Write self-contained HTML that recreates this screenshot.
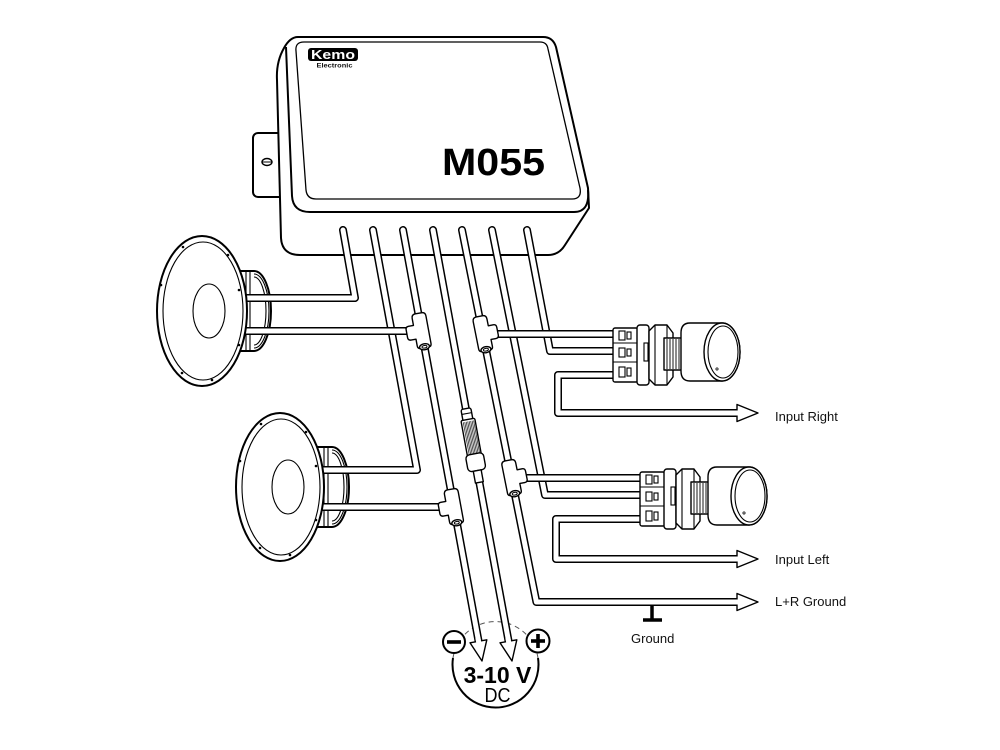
<!DOCTYPE html>
<html><head><meta charset="utf-8">
<style>
html,body{margin:0;padding:0;background:#fff;width:1000px;height:750px;overflow:hidden}
svg{display:block}
.o{fill:#fff;stroke:#000;stroke-width:2;stroke-linejoin:round}
.t{fill:#fff;stroke:#000;stroke-width:1.4;stroke-linejoin:round}
.tb{fill:none;stroke:#000;stroke-width:8;stroke-linejoin:round;stroke-linecap:round}
.tw{fill:none;stroke:#fff;stroke-width:5;stroke-linejoin:round;stroke-linecap:round}
.l{fill:none;stroke:#000;stroke-width:1.1}
.h{fill:none;stroke:#333;stroke-width:0.8}
.th{fill:none;stroke:#000;stroke-width:0.9}
text{font-family:"Liberation Sans",Arial,sans-serif;fill:#111}
</style></head>
<body>
<svg width="1000" height="750" viewBox="0 0 1000 750" xmlns="http://www.w3.org/2000/svg">
<rect width="1000" height="750" fill="#fff"/>

<!-- ===== BOX ===== -->
<rect class="o" x="253" y="133" width="34" height="64" rx="5"/>
<ellipse cx="267" cy="162" rx="5" ry="3.5" class="t"/>
<line x1="262.5" y1="162" x2="271.5" y2="162" stroke="#000" stroke-width="1"/>
<path class="o" stroke-width="2.3" d="M298,37 L543,37 Q553,37 556,47 L588,188 L589,208 L565,245 Q559,255 548,255 L300,255 Q282,255 281,238 L277,80 Q276,62 284,48 Q290,37 298,37 Z"/>
<path fill="none" stroke="#000" stroke-width="2" d="M286,47 L292,196 Q293,212 310,212 L574,212 Q590,212 588,190"/>
<path fill="none" stroke="#000" stroke-width="1.3" d="M304,42 L540,42 Q547,42 548,49 L580,188 Q582,199 572,199 L316,199 Q307,199 306,190 L296,51 Q295,42 304,42 Z"/>
<rect x="308" y="48" width="50" height="13" rx="3" fill="#000"/>
<text x="333" y="59" text-anchor="middle" font-size="12.5" font-weight="bold" style="fill:#fff" textLength="44" lengthAdjust="spacingAndGlyphs">Kemo</text>
<text x="334.5" y="67.5" text-anchor="middle" font-size="6.5" font-weight="bold" textLength="36" lengthAdjust="spacingAndGlyphs">Electronic</text>
<text x="442" y="175" font-size="38" font-weight="bold" textLength="103" lengthAdjust="spacingAndGlyphs" style="fill:#000">M055</text>

<!-- ===== DC circle ===== -->
<path d="M453,658 A43,43 0 1 0 538,658" fill="none" stroke="#000" stroke-width="2"/>
<path d="M453,658 A43,43 0 0 1 538,658" fill="none" stroke="#555" stroke-width="1" stroke-dasharray="5 4"/>

<!-- ===== SPEAKER MAGNETS (behind) ===== -->
<g transform="translate(202,311)">
 <path class="o" d="M34,-40 L52,-40 A17,40 0 0 1 52,40 L34,40 Z"/>
 <path class="l" d="M52,-34 A12,34 0 0 1 52,34"/>
 <path class="l" d="M52,-37 A15,37 0 0 1 52,37"/>
 <line class="l" x1="44" y1="-39" x2="44" y2="39"/>
 <line class="l" x1="48" y1="-39" x2="48" y2="39"/>
</g>
<g transform="translate(280,487)">
 <path class="o" d="M34,-40 L52,-40 A17,40 0 0 1 52,40 L34,40 Z"/>
 <path class="l" d="M52,-34 A12,34 0 0 1 52,34"/>
 <path class="l" d="M52,-37 A15,37 0 0 1 52,37"/>
 <line class="l" x1="44" y1="-39" x2="44" y2="39"/>
 <line class="l" x1="48" y1="-39" x2="48" y2="39"/>
</g>

<!-- ===== WIRES ===== -->
<polyline class="tb" points="343,230 355,298 240,298"/><polyline class="tw" points="343,230 355,298 240,298"/>
<polyline class="tb" points="373,230 417,470 318,470"/><polyline class="tw" points="373,230 417,470 318,470"/>
<polyline class="tb" points="403,230 478.9,643"/><polyline class="tw" points="403,230 478.9,643"/>
<polyline class="tb" points="433,230 508.9,643"/><polyline class="tw" points="433,230 508.9,643"/>
<polyline class="tb" points="462,230 536.4,602 740,602"/><polyline class="tw" points="462,230 536.4,602 740,602"/>
<polyline class="tb" points="492,230 545,495 645,495"/><polyline class="tw" points="492,230 545,495 645,495"/>
<polyline class="tb" points="527,230 550,351 618,351"/><polyline class="tw" points="527,230 550,351 618,351"/>
<polyline class="tb" points="618,375 558,375 558,413 740,413"/><polyline class="tw" points="618,375 558,375 558,413 740,413"/>
<polyline class="tb" points="645,519 556,519 556,559 740,559"/><polyline class="tw" points="645,519 556,519 556,559 740,559"/>
<!-- branches -->
<polyline class="tb" points="240,331 410,331"/><polyline class="tw" points="240,331 410,331"/>
<polyline class="tb" points="318,507 442,507"/><polyline class="tw" points="318,507 442,507"/>
<polyline class="tb" points="494,334 618,334"/><polyline class="tw" points="494,334 618,334"/>
<polyline class="tb" points="523,478 645,478"/><polyline class="tw" points="523,478 645,478"/>

<!-- ===== SPEAKER FRONTS ===== -->
<g transform="translate(202,311)">
 <ellipse class="o" rx="45" ry="75" stroke-width="2.2"/>
 <ellipse class="l" cx="1" rx="40" ry="69"/>
 <ellipse class="l" cx="7" rx="16" ry="27"/>
 <g fill="#000">
  <circle cx="-19" cy="-64" r="1.3"/><circle cx="26" cy="-56" r="1.3"/><circle cx="37" cy="-21" r="1.3"/>
  <circle cx="37" cy="34" r="1.3"/><circle cx="10" cy="69" r="1.3"/><circle cx="-20" cy="62" r="1.3"/>
  <circle cx="-41" cy="-26" r="1.3"/>
 </g>
</g>
<g transform="translate(280,487)">
 <ellipse class="o" rx="44" ry="74" stroke-width="2.2"/>
 <ellipse class="l" cx="1" rx="39" ry="68"/>
 <ellipse class="l" cx="8" rx="16" ry="27"/>
 <g fill="#000">
  <circle cx="-19" cy="-63" r="1.3"/><circle cx="26" cy="-55" r="1.3"/><circle cx="36" cy="-21" r="1.3"/>
  <circle cx="36" cy="33" r="1.3"/><circle cx="10" cy="68" r="1.3"/><circle cx="-20" cy="61" r="1.3"/>
  <circle cx="-40" cy="-26" r="1.3"/>
 </g>
</g>

<!-- ===== T JUNCTIONS ===== -->
<g transform="translate(421.6,331) rotate(-10.4)">
 <path class="t" d="M-3,-18 L3,-18 Q7,-18 7,-14 L7,14 Q7,17 4,17 L-4,17 Q-7,17 -7,14 L-7,7 L-12,7 Q-15,7 -15,4 L-15,-4 Q-15,-7 -12,-7 L-7,-7 L-7,-14 Q-7,-18 -3,-18 Z"/>
 <ellipse class="t" cx="0" cy="16" rx="5" ry="3"/><ellipse cx="0" cy="16" rx="2.5" ry="1.3" fill="none" stroke="#000" stroke-width="1"/>
</g>
<g transform="translate(453.9,507) rotate(-10.4)">
 <path class="t" d="M-3,-18 L3,-18 Q7,-18 7,-14 L7,14 Q7,17 4,17 L-4,17 Q-7,17 -7,14 L-7,7 L-12,7 Q-15,7 -15,4 L-15,-4 Q-15,-7 -12,-7 L-7,-7 L-7,-14 Q-7,-18 -3,-18 Z"/>
 <ellipse class="t" cx="0" cy="16" rx="5" ry="3"/><ellipse cx="0" cy="16" rx="2.5" ry="1.3" fill="none" stroke="#000" stroke-width="1"/>
</g>
<g transform="translate(482.8,334) rotate(-11.3) scale(-1,1)">
 <path class="t" d="M-3,-18 L3,-18 Q7,-18 7,-14 L7,14 Q7,17 4,17 L-4,17 Q-7,17 -7,14 L-7,7 L-12,7 Q-15,7 -15,4 L-15,-4 Q-15,-7 -12,-7 L-7,-7 L-7,-14 Q-7,-18 -3,-18 Z"/>
 <ellipse class="t" cx="0" cy="16" rx="5" ry="3"/><ellipse cx="0" cy="16" rx="2.5" ry="1.3" fill="none" stroke="#000" stroke-width="1"/>
</g>
<g transform="translate(511.6,478) rotate(-11.3) scale(-1,1)">
 <path class="t" d="M-3,-18 L3,-18 Q7,-18 7,-14 L7,14 Q7,17 4,17 L-4,17 Q-7,17 -7,14 L-7,7 L-12,7 Q-15,7 -15,4 L-15,-4 Q-15,-7 -12,-7 L-7,-7 L-7,-14 Q-7,-18 -3,-18 Z"/>
 <ellipse class="t" cx="0" cy="16" rx="5" ry="3"/><ellipse cx="0" cy="16" rx="2.5" ry="1.3" fill="none" stroke="#000" stroke-width="1"/>
</g>

<!-- ===== FUSE ===== -->
<g transform="translate(472.7,446) rotate(-10.4)">
 <rect class="t" x="-5" y="-38" width="10" height="13" rx="2"/>
 <line class="l" x1="-5" y1="-33" x2="5" y2="-33"/>
 <rect class="t" x="-7" y="-27" width="14" height="37" rx="1.5"/>
 <path class="h" d="M-5,-25 V8 M-3.5,-25 V8 M-2,-25 V8 M-0.5,-25 V8 M1,-25 V8 M2.5,-25 V8 M4,-25 V8 M5.5,-25 V8"/>
 <rect class="t" x="-9" y="8" width="18" height="17" rx="4"/>
 <rect class="t" x="-4" y="25" width="8" height="12"/>
</g>

<!-- ===== ARROW HEADS ===== -->
<polygon class="t" points="737,404.5 758,413 737,421.5"/><line x1="733" y1="413" x2="741" y2="413" stroke="#fff" stroke-width="5"/>
<polygon class="t" points="737,550.5 758,559 737,567.5"/><line x1="733" y1="559" x2="741" y2="559" stroke="#fff" stroke-width="5"/>
<polygon class="t" points="737,593.5 758,602 737,610.5"/><line x1="733" y1="602" x2="741" y2="602" stroke="#fff" stroke-width="5"/>
<polygon class="t" points="486.8,639.8 482,661 470,642.8"/><line x1="477.8" y1="637.5" x2="479.1" y2="644.5" stroke="#fff" stroke-width="5"/>
<polygon class="t" points="516.8,639.8 512,661 500,642.8"/><line x1="507.8" y1="637.5" x2="509.1" y2="644.5" stroke="#fff" stroke-width="5"/>

<!-- ===== POT RIGHT ===== -->
<g>
 <rect class="t" x="613" y="328" width="25" height="54" rx="2"/>
 <line class="l" x1="613" y1="343" x2="638" y2="343"/><line class="l" x1="613" y1="362" x2="638" y2="362"/>
 <rect class="l" x="619" y="331" width="6" height="9"/><rect class="l" x="627" y="332" width="4" height="7"/>
 <rect class="l" x="619" y="348" width="6" height="9"/><rect class="l" x="627" y="349" width="4" height="7"/>
 <rect class="l" x="619" y="367" width="6" height="10"/><rect class="l" x="627" y="368" width="4" height="8"/>
 <rect class="t" x="637" y="325" width="12" height="60" rx="3"/>
 <rect class="l" x="644" y="343" width="4" height="18"/>
 <polygon class="t" points="649,331 655,325 667,325 673,333 673,377 667,385 655,385 649,379"/>
 <line class="l" x1="655" y1="325" x2="655" y2="385"/><line class="l" x1="667" y1="325" x2="667" y2="385"/>
 <rect class="t" x="664" y="338" width="18" height="32"/>
 <path class="th" d="M667,339 V369 M670,339 V369 M673,339 V369 M676,339 V369 M679,339 V369"/>
 <path class="t" d="M690,323 L722,323 A18,29 0 0 1 722,381 L690,381 Q681,381 681,371 L681,333 Q681,323 690,323 Z"/>
 <ellipse class="t" cx="722" cy="352" rx="18" ry="29"/>
 <ellipse class="l" cx="723" cy="352" rx="15" ry="26"/>
 <circle cx="717" cy="369" r="1.1" fill="none" stroke="#000" stroke-width="0.8"/>
</g>
<!-- ===== POT LEFT ===== -->
<g transform="translate(27,144)">
 <rect class="t" x="613" y="328" width="25" height="54" rx="2"/>
 <line class="l" x1="613" y1="343" x2="638" y2="343"/><line class="l" x1="613" y1="362" x2="638" y2="362"/>
 <rect class="l" x="619" y="331" width="6" height="9"/><rect class="l" x="627" y="332" width="4" height="7"/>
 <rect class="l" x="619" y="348" width="6" height="9"/><rect class="l" x="627" y="349" width="4" height="7"/>
 <rect class="l" x="619" y="367" width="6" height="10"/><rect class="l" x="627" y="368" width="4" height="8"/>
 <rect class="t" x="637" y="325" width="12" height="60" rx="3"/>
 <rect class="l" x="644" y="343" width="4" height="18"/>
 <polygon class="t" points="649,331 655,325 667,325 673,333 673,377 667,385 655,385 649,379"/>
 <line class="l" x1="655" y1="325" x2="655" y2="385"/><line class="l" x1="667" y1="325" x2="667" y2="385"/>
 <rect class="t" x="664" y="338" width="18" height="32"/>
 <path class="th" d="M667,339 V369 M670,339 V369 M673,339 V369 M676,339 V369 M679,339 V369"/>
 <path class="t" d="M690,323 L722,323 A18,29 0 0 1 722,381 L690,381 Q681,381 681,371 L681,333 Q681,323 690,323 Z"/>
 <ellipse class="t" cx="722" cy="352" rx="18" ry="29"/>
 <ellipse class="l" cx="723" cy="352" rx="15" ry="26"/>
 <circle cx="717" cy="369" r="1.1" fill="none" stroke="#000" stroke-width="0.8"/>
</g>

<!-- ===== GROUND SYMBOL ===== -->
<line x1="652" y1="606" x2="652" y2="620" stroke="#000" stroke-width="3.5"/>
<line x1="643" y1="620" x2="662" y2="620" stroke="#000" stroke-width="3.5"/>

<!-- ===== +/- ===== -->
<circle cx="454" cy="642" r="11" fill="#fff" stroke="#000" stroke-width="2"/>
<rect x="447" y="640.2" width="14" height="3.6" fill="#000"/>
<circle cx="538" cy="641" r="11.5" fill="#fff" stroke="#000" stroke-width="2"/>
<rect x="531" y="639.2" width="14" height="3.6" fill="#000"/>
<rect x="536.2" y="634" width="3.6" height="14" fill="#000"/>

<!-- ===== LABELS ===== -->
<text x="497.5" y="683" text-anchor="middle" font-size="23" font-weight="bold" style="fill:#000">3-10 V</text>
<text x="497.5" y="702" text-anchor="middle" font-size="20" textLength="26" lengthAdjust="spacingAndGlyphs" style="fill:#000">DC</text>
<text x="775" y="421" font-size="13">Input Right</text>
<text x="775" y="564" font-size="13">Input Left</text>
<text x="775" y="606" font-size="13">L+R Ground</text>
<text x="631" y="643" font-size="13">Ground</text>
</svg>
</body></html>
